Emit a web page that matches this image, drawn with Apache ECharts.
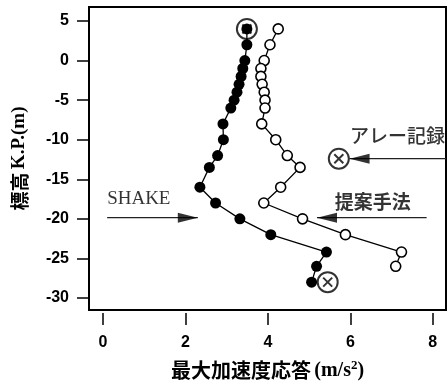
<!DOCTYPE html>
<html>
<head>
<meta charset="utf-8">
<script src="https://cdn.jsdelivr.net/npm/echarts@6/dist/echarts.min.js"></script>
<style>
  html, body { margin: 0; padding: 0; background: #fff; }
  #chart { width: 448px; height: 383px; }
</style>
</head>
<body>
<div id="chart"></div>
<script>
// SHAKE (filled dots): peak acceleration (m/s^2) vs elevation K.P. (m)
const shakeDepth = [4, 2, 0, -1, -2, -3, -4, -5, -6, -8, -10, -12, -13.5, -16, -18, -20, -22, -24.2, -26, -28];
const shakeAcc   = [3.49, 3.49, 3.44, 3.39, 3.35, 3.30, 3.25, 3.18, 3.10, 2.91, 2.92, 2.78, 2.58, 2.35, 2.73, 3.32, 4.07, 5.42, 5.18, 5.06];

// Proposed method (open circles)
const propDepth = [4, 2, 0, -1, -2, -3, -4, -5, -6, -8, -10, -12, -13.5, -16, -18, -20, -22, -24.2, -26];
const propAcc   = [4.25, 4.05, 3.91, 3.83, 3.83, 3.86, 3.91, 3.93, 3.93, 3.85, 4.19, 4.47, 4.78, 4.31, 3.90, 4.84, 5.88, 7.24, 7.10];

// Array records (circled crosses)
const arrayDepth = [4, -12.4, -28];
const arrayAcc   = [3.49, 5.72, 5.45];

// Tick labels
const xTicks = [0, 2, 4, 6, 8];
const yTicks = [-30, -25, -20, -15, -10, -5, 0, 5];

// Callout arrows (data units): shaft start, arrow tip
const arrowFrom = [[8.32, -12.4], [7.85, -19.85], [0.10, -19.85]];
const arrowTo   = [[5.98, -12.4], [5.19, -19.85], [2.30, -19.85]];

// Callout texts anchored at their left edge (data units)
const noteText = ['アレー記録', '提案手法', 'SHAKE'];
const notePos  = [[5.99, -9.47], [5.62, -17.8], [0.10, -17.5]];
const noteFont = [
  { fontFamily: 'Noto Sans CJK JP', fontWeight: 500 },
  { fontFamily: 'Noto Sans CJK JP', fontWeight: 'bold' },
  { fontFamily: 'Liberation Serif', fontWeight: 'normal' }
];

const X_MIN = -0.34, X_MAX = 8.32;
const Y_MIN = -31.52, Y_MAX = 6.77;
const PX_PER_X = 357 / (X_MAX - X_MIN);

const zip = (xs, ys) => xs.map((v, i) => [v, ys[i]]);

const chart = echarts.init(document.getElementById('chart'));

const series = [];

// arrow shafts
arrowFrom.forEach((p, i) => {
  series.push({
    type: 'line', data: [p, arrowTo[i]], symbol: 'none', silent: true,
    lineStyle: { color: '#222', width: 1.3 }, z: 2, animation: false
  });
});

// arrow heads (triangles pointing to the tip)
const headLen = 20;
series.push({
  type: 'scatter', silent: true, animation: false, z: 3,
  symbol: 'triangle',
  data: arrowTo.map((t, i) => {
    const dir = Math.sign(t[0] - arrowFrom[i][0]);
    return {
      value: [t[0] - dir * (headLen / 2) / PX_PER_X, t[1]],
      symbolRotate: dir < 0 ? 90 : -90
    };
  }),
  symbolSize: [10, headLen],
  itemStyle: { color: '#000' }
});

// SHAKE line
series.push({
  type: 'line', data: zip(shakeAcc, shakeDepth), z: 5, animation: false,
  symbol: 'circle', symbolSize: 11, showAllSymbol: true,
  lineStyle: { color: '#000', width: 1.3 },
  itemStyle: { color: '#000', borderColor: '#000', borderWidth: 0 }
});

// Proposed method line
series.push({
  type: 'line', data: zip(propAcc, propDepth), z: 5, animation: false,
  symbol: 'circle', symbolSize: 10, showAllSymbol: true,
  lineStyle: { color: '#000', width: 1.3 },
  itemStyle: { color: '#fff', borderColor: '#000', borderWidth: 1.6 }
});

// Array record: circle + cross
series.push({
  type: 'scatter', data: zip(arrayAcc, arrayDepth), z: 4, animation: false,
  symbol: 'circle', symbolSize: 20,
  itemStyle: { color: '#fff', borderColor: '#000', borderWidth: 2 }
});
series.push({
  type: 'scatter', data: zip(arrayAcc, arrayDepth), z: 4, animation: false,
  symbol: 'path://M0,0 L10,10 M10,0 L0,10', symbolSize: 9,
  itemStyle: { color: 'rgba(0,0,0,0)', borderColor: '#000', borderWidth: 2 }
});

// Callout texts
series.push({
  type: 'scatter', silent: true, animation: false, z: 6,
  symbolSize: 0, clip: false,
  data: notePos.map((p, i) => ({
    value: p, name: noteText[i],
    label: Object.assign({ color: '#000', fontSize: 19 }, noteFont[i])
  })),
  label: {
    show: true, position: 'right', distance: 0,
    formatter: p => p.name, color: '#000', fontSize: 19
  },
  labelLayout: { hideOverlap: false }
});

chart.setOption({
  animation: false,
  grid: {
    left: 89, top: 7, right: 2, bottom: 73,
    outerBoundsMode: 'none', containLabel: false,
    show: true, borderColor: '#000', borderWidth: 2, backgroundColor: 'transparent'
  },
  xAxis: {
    type: 'value', min: X_MIN, max: X_MAX, offset: 3,
    axisLine: { show: false, onZero: false },
    splitLine: { show: false },
    axisTick: { show: true, customValues: xTicks, length: 12, lineStyle: { color: '#000', width: 1.5 } },
    axisLabel: {
      customValues: xTicks, margin: 22,
      fontFamily: 'Liberation Sans', fontWeight: 'bold', fontSize: 16, color: '#000'
    },
    name: '{a|最大加速度応答} {b|(m/s}{sup|2}{b|)}',
    nameLocation: 'middle', nameGap: 46,
    nameTextStyle: {
      rich: {
        a: { fontFamily: 'Noto Sans CJK JP', fontWeight: 'bold', fontSize: 20, color: '#000' },
        b: { fontFamily: 'Liberation Serif', fontWeight: 'bold', fontSize: 20, color: '#000' },
        sup: { fontFamily: 'Liberation Serif', fontWeight: 'bold', fontSize: 13, color: '#000', verticalAlign: 'top', padding: [0, 0, 10, 0] }
      }
    }
  },
  yAxis: {
    type: 'value', min: Y_MIN, max: Y_MAX,
    axisLine: { show: false, onZero: false },
    splitLine: { show: false },
    axisTick: { show: true, customValues: yTicks, length: 12, lineStyle: { color: '#000', width: 1.5 } },
    axisLabel: {
      customValues: yTicks, margin: 20,
      fontFamily: 'Liberation Sans', fontWeight: 'bold', fontSize: 16, color: '#000'
    },
    name: '{a|標高} {b|K.P.(m)}',
    nameLocation: 'middle', nameGap: 60, nameRotate: 90,
    nameTextStyle: {
      rich: {
        a: { fontFamily: 'Noto Sans CJK JP', fontWeight: 'bold', fontSize: 19, color: '#000' },
        b: { fontFamily: 'Liberation Serif', fontWeight: 'bold', fontSize: 19, color: '#000' }
      }
    }
  },
  series: series
});
</script>
</body>
</html>
